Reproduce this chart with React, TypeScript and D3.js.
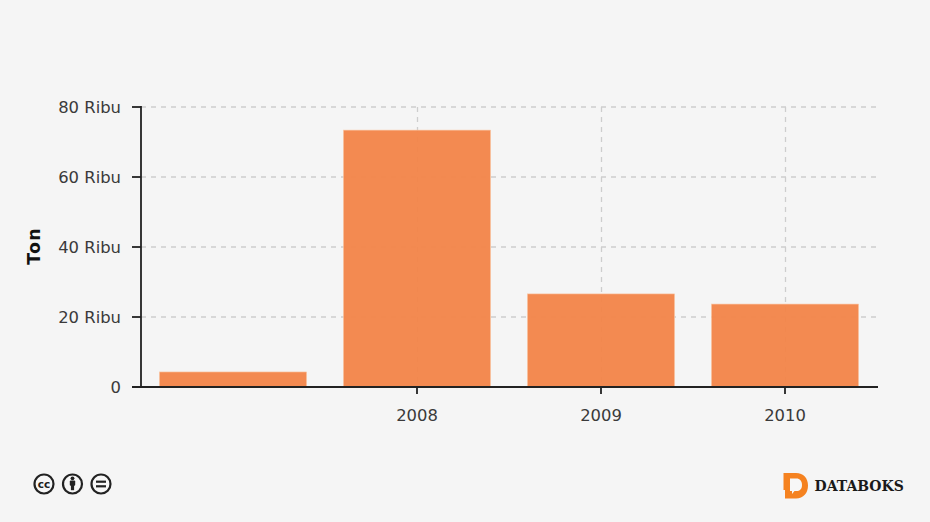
import React, { useEffect, useRef } from "react";
import * as d3 from "d3";

const categories = ["", "2008", "2009", "2010"];
const values = [4300, 73400, 26600, 23700];
const yTicks = [0, 20000, 40000, 60000, 80000];
const yTickLabels = ["0", "20 Ribu", "40 Ribu", "60 Ribu", "80 Ribu"];
const yTitle = "Ton";
const brand = "DATABOKS";

const FONT = "'DejaVu Sans', Verdana, sans-serif";

export default function App() {
  const ref = useRef<SVGGElement | null>(null);

  useEffect(() => {
    const svg = d3.select(ref.current);
    svg.selectAll("*").remove();

    const x = d3.scaleBand<string>().domain(categories).range([141, 877]).paddingInner(0.2).paddingOuter(0.1);
    const y = d3.scaleLinear().domain([0, 80000]).range([387, 107]);

    const grid = svg.append("g").attr("stroke", "#cdcdcd").attr("stroke-dasharray", "5 5").attr("stroke-width", 1.3).attr("fill", "none");
    yTicks.slice(1).forEach((t) => {
      grid.append("line").attr("x1", 141).attr("x2", 877).attr("y1", y(t)).attr("y2", y(t));
    });
    categories.slice(1).forEach((c) => {
      const cx = (x(c) as number) + x.bandwidth() / 2 + 0.5;
      grid.append("line").attr("x1", cx).attr("x2", cx).attr("y1", 107).attr("y2", 387);
    });

    svg.append("g").selectAll("rect").data(categories).join("rect")
      .attr("x", (c) => x(c) as number)
      .attr("width", x.bandwidth())
      .attr("y", (_, i) => y(values[i]))
      .attr("height", (_, i) => 387 - y(values[i]))
      .attr("fill", "#f3854a")
      .attr("fill-opacity", 0.96)
      .attr("stroke", "#f9c9a8")
      .attr("stroke-width", 0.6);

    const axes = svg.append("g").attr("stroke", "#222").attr("stroke-width", 1.8);
    axes.append("line").attr("x1", 141).attr("x2", 141).attr("y1", 106).attr("y2", 387);
    axes.append("line").attr("x1", 132).attr("x2", 878).attr("y1", 387).attr("y2", 387);
    yTicks.forEach((t) => {
      axes.append("line").attr("x1", 132).attr("x2", 141).attr("y1", y(t)).attr("y2", y(t));
    });
    categories.slice(1).forEach((c) => {
      const cx = (x(c) as number) + x.bandwidth() / 2;
      axes.append("line").attr("x1", cx).attr("x2", cx).attr("y1", 387).attr("y2", 394);
    });

    yTicks.forEach((t, i) => {
      svg.append("text").attr("x", 121).attr("y", y(t) + 5.5).attr("text-anchor", "end")
        .attr("font-family", FONT).attr("font-size", 16.4).attr("fill", "#3a3a3a").text(yTickLabels[i]);
    });
    categories.slice(1).forEach((c) => {
      svg.append("text").attr("x", (x(c) as number) + x.bandwidth() / 2).attr("y", 420.5).attr("text-anchor", "middle")
        .attr("font-family", FONT).attr("font-size", 16.4).attr("fill", "#3a3a3a").text(c);
    });
    svg.append("text").attr("transform", "translate(40,246) rotate(-90)").attr("text-anchor", "middle")
      .attr("font-family", FONT).attr("font-size", 17.5).attr("letter-spacing", 1.2).attr("font-weight", "bold").attr("fill", "#111").text(yTitle);
  }, []);

  const ccIcon = (cx: number, inner: React.ReactNode) => (
    <g>
      <circle cx={cx} cy={484} r={9.5} fill="#f7f7f7" stroke="#222" strokeWidth={2.2} />
      {inner}
    </g>
  );

  return (
    <svg
      width={930}
      height={522}
      style={{ position: "absolute", left: 0, top: 0, background: "#f5f5f5", display: "block" }}
    >
      <g ref={ref} />
      {ccIcon(44, (
        <text x={44} y={487.8} textAnchor="middle" fontFamily={FONT} fontWeight="bold" fontSize={10.5} fill="#222">cc</text>
      ))}
      {ccIcon(72.5, (
        <g fill="#222">
          <circle cx={72.5} cy={478.3} r={1.9} />
          <rect x={69.8} y={480.6} width={5.4} height={5.2} rx={1} />
          <rect x={70.9} y={484} width={3.2} height={6.2} />
        </g>
      ))}
      {ccIcon(101, (
        <g fill="#222">
          <rect x={96} y={480.6} width={10} height={2.2} />
          <rect x={96} y={485.2} width={10} height={2.2} />
        </g>
      ))}
      <path
        d="M783.5 473 H796 C803.5 473 808 478 808 485.5 C808 493 803.5 498.5 796 498.5 H785 V490 H783.5 Z"
        fill="#f58220"
      />
      <path
        d="M790 478.5 H796.5 C799.8 478.5 802 481 802 485 C802 489 799.8 491 796.5 491 H794.5 L792 494 V491 H790 Z"
        fill="#f7f7f7"
      />
      <text x={814.5} y={491} fontFamily="'DejaVu Serif', serif" fontWeight="bold" fontSize={14} fill="#1a1a1a">{brand}</text>
    </svg>
  );
}
